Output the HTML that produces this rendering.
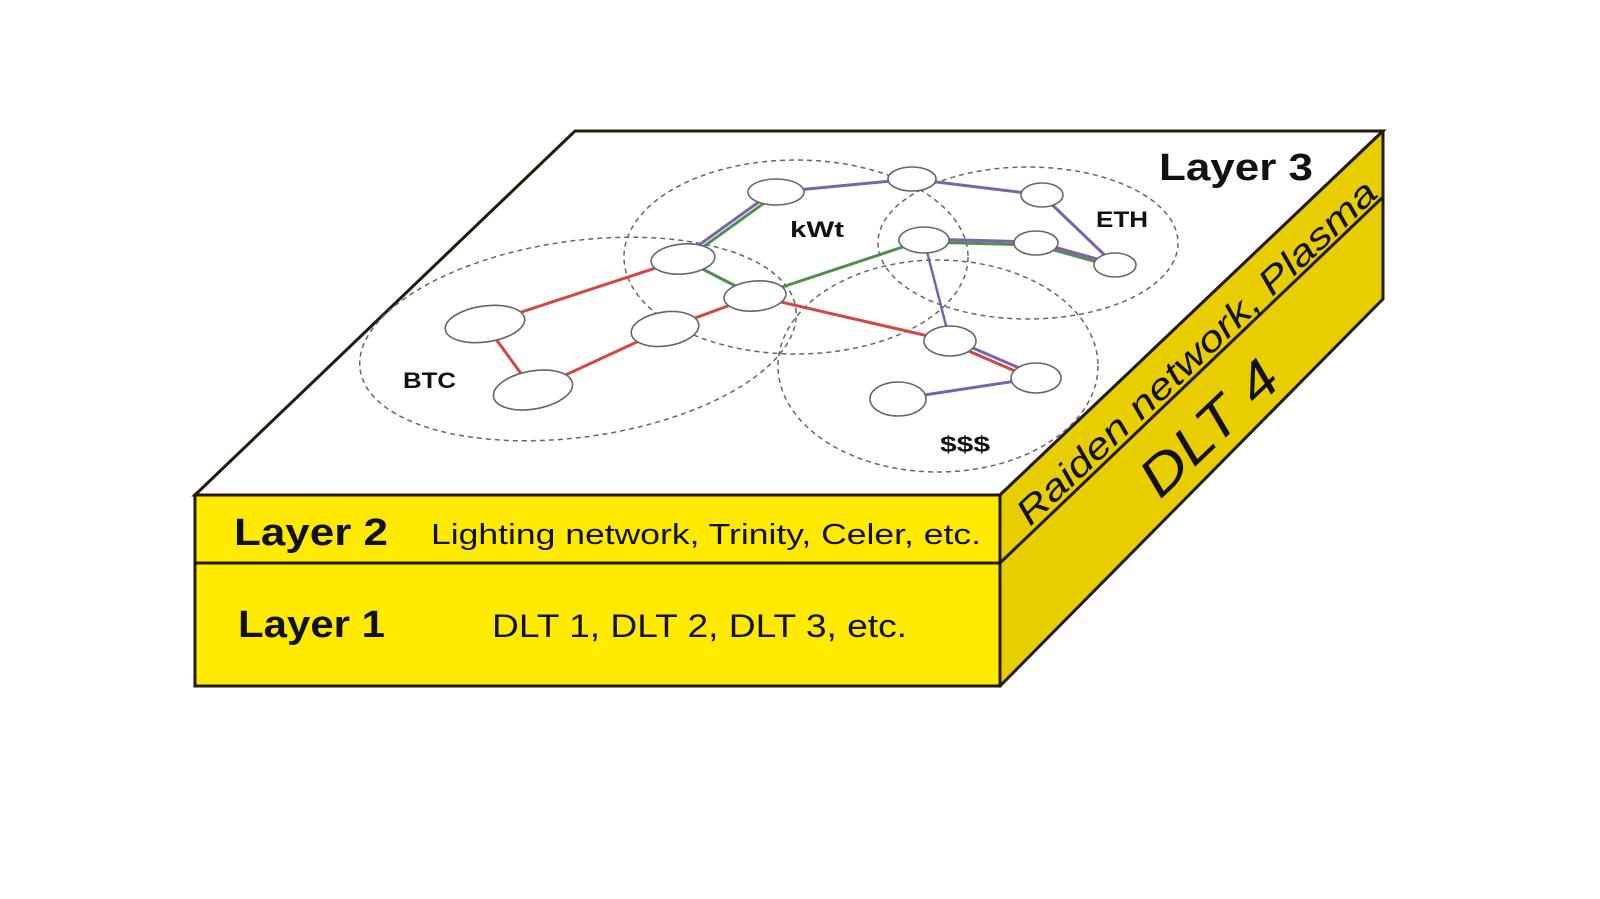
<!DOCTYPE html>
<html><head><meta charset="utf-8"><style>
html,body{margin:0;padding:0;background:#fff;}
svg{display:block;}
text{font-family:"Liberation Sans",sans-serif;}
</style></head><body>
<svg width="1600" height="899" viewBox="0 0 1600 899" xmlns="http://www.w3.org/2000/svg">
<rect width="1600" height="899" fill="#fff"/>
<polygon points="195,495 575,131 1383,131 1000,495" fill="#fff" stroke="#231a0a" stroke-width="3"/>
<polygon points="195,495 1000,495 1000,686 195,686" fill="#ffea00" stroke="#231a0a" stroke-width="3"/>
<line x1="195" y1="563" x2="1000" y2="563" stroke="#231a0a" stroke-width="3"/>
<polygon points="1000,495 1383,131 1383,299 1000,686" fill="#e8cd00" stroke="#231a0a" stroke-width="3" stroke-linejoin="round"/>
<line x1="1000" y1="563" x2="1383" y2="197" stroke="#231a0a" stroke-width="3"/>

<g fill="none" stroke="#666" stroke-width="1.5" stroke-dasharray="5,4">
<ellipse cx="578" cy="339" rx="220" ry="98" transform="rotate(-8 578 339)"/>
<ellipse cx="796" cy="257" rx="172" ry="97"/>
<ellipse cx="1028" cy="243" rx="150" ry="76"/>
<ellipse cx="938" cy="366" rx="160" ry="106"/>
</g>

<g stroke-width="3" fill="none">
<line x1="485" y1="324" x2="683" y2="259" stroke="#d64541"/>
<line x1="485" y1="324" x2="533" y2="390" stroke="#d64541"/>
<line x1="533" y1="390" x2="665" y2="329" stroke="#d64541"/>
<line x1="665" y1="329" x2="755" y2="296" stroke="#d64541"/>
<line x1="755" y1="296" x2="950" y2="341" stroke="#d64541"/>
<line x1="950" y1="343" x2="1036" y2="380" stroke="#d64541"/>
<line x1="952" y1="339" x2="1038" y2="376" stroke="#7b62ad"/>
<line x1="683" y1="259" x2="755" y2="296" stroke="#4f9050"/>
<line x1="685" y1="260" x2="778" y2="193" stroke="#4f9050"/>
<line x1="681" y1="258" x2="774" y2="191" stroke="#7b62ad"/>
<line x1="755" y1="296" x2="924" y2="240" stroke="#4f9050"/>
<line x1="924" y1="242" x2="1036" y2="245" stroke="#4f9050"/>
<line x1="924" y1="239" x2="1036" y2="242" stroke="#7b62ad"/>
<line x1="1036" y1="245" x2="1115" y2="267" stroke="#4f9050"/>
<line x1="1036" y1="242" x2="1115" y2="264" stroke="#7b62ad"/>
<line x1="776" y1="192" x2="912" y2="179" stroke="#7b62ad"/>
<line x1="912" y1="179" x2="1042" y2="195" stroke="#7b62ad"/>
<line x1="1042" y1="195" x2="1115" y2="265" stroke="#7b62ad"/>
<line x1="924" y1="240" x2="950" y2="341" stroke="#7b62ad" stroke-width="2.5"/>
<line x1="898" y1="399" x2="1036" y2="378" stroke="#7b62ad"/>
</g>

<g fill="#fff" stroke="#666" stroke-width="1.6">
<ellipse cx="485" cy="324" rx="40" ry="18" transform="rotate(-8 485 324)"/>
<ellipse cx="533" cy="390" rx="40" ry="19" transform="rotate(-10 533 390)"/>
<ellipse cx="665" cy="329" rx="34" ry="17" transform="rotate(-8 665 329)"/>
<ellipse cx="683" cy="259" rx="32" ry="15" transform="rotate(-5 683 259)"/>
<ellipse cx="755" cy="296" rx="31" ry="15" transform="rotate(-5 755 296)"/>
<ellipse cx="776" cy="192" rx="28" ry="13"/>
<ellipse cx="912" cy="179" rx="24" ry="12"/>
<ellipse cx="1042" cy="195" rx="21" ry="12"/>
<ellipse cx="924" cy="240" rx="25" ry="13"/>
<ellipse cx="1036" cy="243" rx="22" ry="12"/>
<ellipse cx="1115" cy="265" rx="21" ry="12"/>
<ellipse cx="950" cy="341" rx="26" ry="15"/>
<ellipse cx="1036" cy="378" rx="25" ry="15"/>
<ellipse cx="898" cy="399" rx="28" ry="17"/>
</g>

<g font-weight="bold" font-size="22" fill="#111" lengthAdjust="spacingAndGlyphs">
<text x="403" y="388" textLength="53" lengthAdjust="spacingAndGlyphs">BTC</text>
<text x="790" y="237" textLength="54" lengthAdjust="spacingAndGlyphs">kWt</text>
<text x="1096" y="227" textLength="52" lengthAdjust="spacingAndGlyphs">ETH</text>
<text x="940" y="452" textLength="50" lengthAdjust="spacingAndGlyphs">$$$</text>
</g>
<text x="1159" y="180" font-size="38" font-weight="bold" fill="#111" textLength="154" lengthAdjust="spacingAndGlyphs">Layer 3</text>
<text x="234" y="545" font-size="38" font-weight="bold" fill="#111" textLength="154" lengthAdjust="spacingAndGlyphs">Layer 2</text>
<text x="431" y="544" font-size="29" fill="#111" textLength="550" lengthAdjust="spacingAndGlyphs">Lighting network, Trinity, Celer, etc.</text>
<text x="238" y="637" font-size="38" font-weight="bold" fill="#111" textLength="147" lengthAdjust="spacingAndGlyphs">Layer 1</text>
<text x="492" y="637" font-size="32" fill="#111" textLength="415" lengthAdjust="spacingAndGlyphs">DLT 1, DLT 2, DLT 3, etc.</text>

<g transform="translate(1030,527) rotate(-43.5)">
<text x="0" y="0" font-size="36" font-style="italic" fill="#111" textLength="482" lengthAdjust="spacingAndGlyphs">Raiden network, Plasma</text>
</g>
<g transform="translate(1160,500) rotate(-43.5)">
<text x="0" y="0" font-size="54" font-style="italic" fill="#111" textLength="170" lengthAdjust="spacingAndGlyphs">DLT 4</text>
</g>
</svg>
</body></html>
